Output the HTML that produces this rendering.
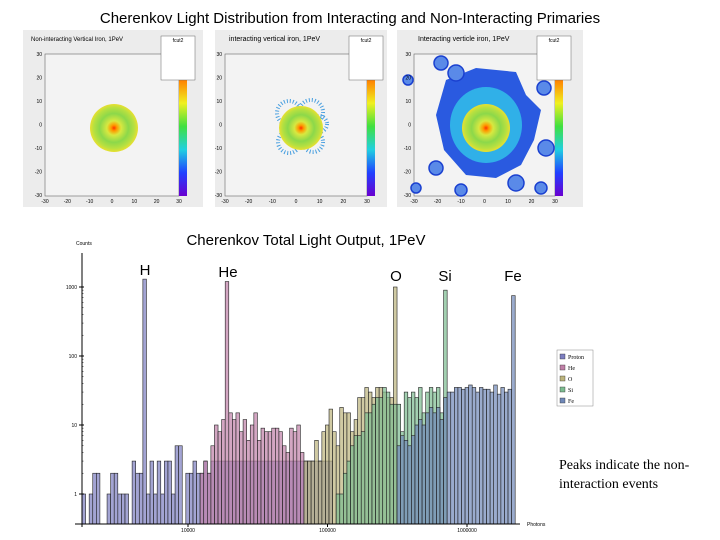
<!DOCTYPE html>
<html><head><meta charset="utf-8"><style>
body{margin:0;background:#fff;width:720px;height:540px;overflow:hidden;font-family:"Liberation Sans",sans-serif;}
svg{position:absolute;left:0;top:0}
</style></head><body>
<svg width="720" height="540" xmlns="http://www.w3.org/2000/svg">
<defs>
<radialGradient id="g1"><stop offset="0" stop-color="#ff3300"/><stop offset="0.12" stop-color="#ff9900"/><stop offset="0.3" stop-color="#d8e840"/><stop offset="0.6" stop-color="#8cd84a"/><stop offset="0.85" stop-color="#b8e040"/><stop offset="1" stop-color="#e8e030"/></radialGradient>
<linearGradient id="cb" x1="0" y1="1" x2="0" y2="0"><stop offset="0" stop-color="#6a00d0"/><stop offset="0.2" stop-color="#2040ff"/><stop offset="0.4" stop-color="#20d0e0"/><stop offset="0.6" stop-color="#40e040"/><stop offset="0.8" stop-color="#f0f020"/><stop offset="1" stop-color="#ff8000"/></linearGradient>
</defs>
<text x="350" y="23" font-size="15" text-anchor="middle" font-family="Liberation Sans,sans-serif">Cherenkov Light Distribution from Interacting and Non-Interacting Primaries</text>
<g id="panels"></g>
<g id="hist"></g>
<text x="306" y="245" font-size="15" text-anchor="middle">Cherenkov Total Light Output, 1PeV</text>
<g font-size="15">
<text x="145" y="275" text-anchor="middle">H</text>
<text x="228" y="277" text-anchor="middle">He</text>
<text x="396" y="281" text-anchor="middle">O</text>
<text x="445" y="281" text-anchor="middle">Si</text>
<text x="513" y="281" text-anchor="middle">Fe</text>
</g>
<g font-size="6" font-family="Liberation Serif,serif">
<rect x="557" y="350" width="36" height="56" fill="#fff" stroke="#888" stroke-width="0.5"/>
<g id="leg"></g>
</g>
<text font-size="14" font-family="Liberation Serif,serif"><tspan x="559" y="469">Peaks indicate the non-</tspan><tspan x="559" y="488">interaction events</tspan></text>
</svg>
<script>
const NS="http://www.w3.org/2000/svg";
function mk(p,t,a){const e=document.createElementNS(NS,t);for(const k in a)e.setAttribute(k,a[k]);p.appendChild(e);return e;}
const panelsG=document.getElementById('panels');
const panels=[
 {bx:23,bw:180,ax:45,aw:134,cx:114,r:24,title:"Non-interacting Vertical Iron, 1PeV",halo:0},
 {bx:215,bw:172,ax:225,aw:142,cx:301,r:22,title:"interacting vertical iron, 1PeV",halo:1},
 {bx:397,bw:186,ax:414,aw:141,cx:486,r:24,title:"Interacting verticle iron, 1PeV",halo:2}];
const ticks=["30","20","10","0","-10","-20","-30"];
panels.forEach((p,i)=>{
 const g=mk(panelsG,'g',{});
 
 
 mk(g,'rect',{x:p.bx,y:30,width:p.bw,height:177,fill:'#ececec'});
 mk(g,'rect',{x:p.ax,y:54,width:p.aw,height:142,fill:'#f3f3f3',stroke:'#666','stroke-width':0.6});
 if(p.halo==1){
  [[-12,-15,12],[10,-16,12],[-12,14,11],[12,14,10],[18,-4,8]].forEach(b=>mk(g,'circle',{cx:p.cx+b[0],cy:128+b[1],r:b[2],fill:'none',stroke:'#4aa0e0','stroke-width':4,'stroke-dasharray':'1 2'}));
 }
 if(p.halo==2){
  mk(g,'path',{d:`M${p.cx-40},${80} L${p.cx-10},${68} L${p.cx+30},${72} L${p.cx+40},${95} L${p.cx+55},${110} L${p.cx+48},${140} L${p.cx+35},${165} L${p.cx+10},${178} L${p.cx-20},${175} L${p.cx-42},${150} L${p.cx-50},${115} Z`,fill:'#2a5ae0'});
  [[-45,-65,7],[58,-40,7],[-78,-48,5],[-50,40,7],[-70,60,5],[-25,62,6],[30,55,8],[55,60,6],[60,20,8],[-30,-55,8]].forEach(b=>mk(g,'circle',{cx:p.cx+b[0],cy:128+b[1],r:b[2],fill:'#5a8ae8',stroke:'#1a40d0','stroke-width':1.5}));
  mk(g,'ellipse',{cx:p.cx,cy:125,rx:36,ry:38,fill:'#30b0e8'});
 }
 mk(g,'circle',{cx:p.cx,cy:128,r:p.r,fill:'url(#g1)'});
 mk(g,'rect',{x:p.ax+p.aw,y:80,width:8,height:116,fill:'url(#cb)'});
 mk(g,'rect',{x:p.ax+p.aw-18,y:36,width:34,height:44,fill:'#fff',stroke:'#666','stroke-width':0.5});
 const tt=mk(g,'text',{x:p.ax+p.aw-1,y:42,'font-size':5,'text-anchor':'middle'});tt.textContent='fcut2';
 const tb=mk(g,'text',{x:i==0?p.bx+8:p.ax+4,y:41,'font-size':i==0?6:7});tb.textContent=p.title;
 ticks.forEach((t,k)=>{const e=mk(g,'text',{x:p.ax-3,y:56+k*23.5,'font-size':5,'text-anchor':'end'});e.textContent=t;});
 ["-30","-20","-10","0","10","20","30"].forEach((t,k)=>{const e=mk(g,'text',{x:p.ax+k*p.aw/6,y:203,'font-size':5,'text-anchor':'middle'});e.textContent=t;});
});
const protonStart=0;
const protonVals=[1,0,1,2,2,0,0,1,2,2,1,1,1,0,3,2,2,1300,1,3,1,3,1,3,3,1,5,5,0,2,2,3,2,2,3,2,3,3,3,3,3,3,3,3,3,3,3,3,3,3,3,3,3,3,3,3,3,3,3,3,3,3,3,3,3,3,3,3,3,3];
const heStart=33;
const heVals=[2,3,2,5,10,8,12,1200,15,12,15,8,12,6,10,15,6,9,8,8,9,9,8,5,4,9,8,10,4];
const oStart=62;
const oVals=[3,3,3,6,3,8,10,17,8,5,18,15,15,8,12,25,25,35,30,25,35,35,30,25,25,1000];
const siStart=71;
const siVals=[1,1,2,3,5,7,7,8,15,15,20,25,25,35,30,20,20,20,8,30,25,30,25,35,15,30,35,30,35,15,900];
const feStart=88;
const feVals=[5,7,6,5,7,10,12,10,15,18,15,18,12,25,30,30,35,35,33,35,38,35,30,35,33,33,30,38,28,35,30,33,750];
const seriesNames=["Proton","He","O","Si","Fe"];
const yTickVals=[1,10,100,1000];
const xTickLabels=["10000","100000","1000000"];
const colors=["#7c7ec0","#c080a8","#bcb47c","#7cbc90","#6f88b8"];
const X0=82,BW=3.58,BASE=524;
function xb(i){return X0+i*BW;}
function yv(v){return 494-69*Math.log10(v);}
const H=document.getElementById('hist');
const all=[[protonStart,protonVals],[heStart,heVals],[oStart,oVals],[siStart,siVals],[feStart,feVals]];
all.forEach((s,si)=>{
 const g=mk(H,'g',{});
 
 
 s[1].forEach((v,k)=>{
  if(v<=0)return;
  const y=yv(v);
  const r=mk(g,'rect',{x:xb(s[0]+k),y:y,width:BW,height:BASE-y,fill:colors[si],'fill-opacity':0.7,stroke:'#222','stroke-width':0.6});
  
  
 });
});
const ax=mk(H,'g',{stroke:'#000','stroke-width':1});


mk(ax,'line',{x1:X0,y1:253,x2:X0,y2:527});
mk(ax,'line',{x1:75,y1:BASE,x2:520,y2:BASE});
yTickVals.forEach(v=>{
 mk(ax,'line',{x1:X0-3,y1:yv(v),x2:X0+2,y2:yv(v)});
 for(let m=2;m<10&&v<1000;m++)mk(ax,'line',{x1:X0,y1:yv(v*m),x2:X0+1.5,y2:yv(v*m),'stroke-width':0.5});
 const t=mk(H,'text',{x:X0-5,y:yv(v)+2,'font-size':5,'text-anchor':'end'});t.textContent=v;
 
 
});
xTickLabels.forEach((l,k)=>{
 const x=188+k*139.5;
 mk(ax,'line',{x1:x,y1:BASE,x2:x,y2:BASE+3});
 const t=mk(H,'text',{x:x,y:532,'font-size':5,'text-anchor':'middle'});t.textContent=l;
 
 
});
let t=mk(H,'text',{x:76,y:245,'font-size':5});t.textContent='Counts';
t=mk(H,'text',{x:527,y:526,'font-size':5});t.textContent='Photons';
const L=document.getElementById('leg');
seriesNames.forEach((n,k)=>{
 const y=354+k*11;
 const r=mk(L,'rect',{x:560,y:y,width:5,height:5,fill:colors[k],stroke:'#333','stroke-width':0.4});
 
 
 const e=mk(L,'text',{x:568,y:y+5});e.textContent=n;
 
 
});
</script>
</body></html>
